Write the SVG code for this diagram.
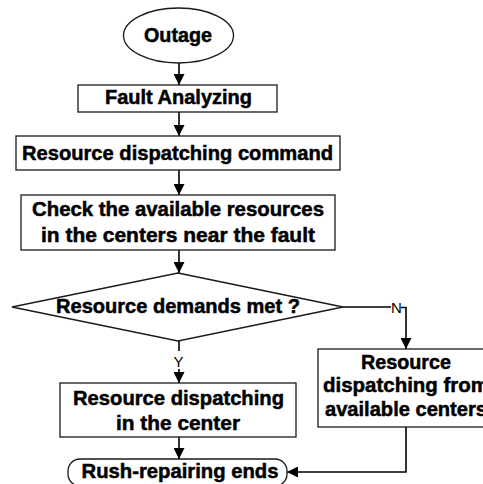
<svg xmlns="http://www.w3.org/2000/svg" width="483" height="484" viewBox="0 0 483 484">
<defs>
<style>
.shape{fill:#fff;stroke:#1a1a1a;stroke-width:1.3}
.t{font-family:"Liberation Sans",Arial,sans-serif;font-weight:bold;font-size:20.5px;fill:#000;stroke:#000;stroke-width:0.5;text-anchor:middle}
.lbl{font-family:"Liberation Sans",Arial,sans-serif;font-size:15px;fill:#000;text-anchor:middle}
.c{fill:none;stroke:#000;stroke-width:1.6}
</style>
<marker id="ah" viewBox="0 0 10 10" refX="10" refY="5" markerWidth="11" markerHeight="11" markerUnits="userSpaceOnUse" orient="auto">
<path d="M0,0 L10,5 L0,10 z" fill="#000"/>
</marker>
</defs>
<rect width="483" height="484" fill="#fff"/>
<g id="connectors">
<line class="c" x1="179" y1="63" x2="179" y2="85" marker-end="url(#ah)"/>
<line class="c" x1="179" y1="112" x2="179" y2="136" marker-end="url(#ah)"/>
<line class="c" x1="179" y1="170" x2="179" y2="195" marker-end="url(#ah)"/>
<line class="c" x1="179" y1="250" x2="179" y2="273" marker-end="url(#ah)"/>
<line class="c" x1="179" y1="341" x2="179" y2="351"/>
<line class="c" x1="179" y1="369" x2="179" y2="383" marker-end="url(#ah)"/>
<text class="lbl" x="178.5" y="367">Y</text>
<polyline class="c" points="343,307 391,307"/>
<polyline class="c" points="401,307.5 406,307.5 406,349" marker-end="url(#ah)"/>
<text class="lbl" x="396.5" y="313">N</text>
<line class="c" x1="179" y1="437" x2="179" y2="459" marker-end="url(#ah)"/>
<polyline class="c" points="406,427 406,472 287,472" marker-end="url(#ah)"/>
</g>
<g id="outage">
<ellipse class="shape" cx="178.5" cy="35.5" rx="55" ry="27.5"/>
<text class="t" x="178" y="42" textLength="68" lengthAdjust="spacingAndGlyphs">Outage</text>
</g>
<g id="fault-analyzing">
<rect class="shape" x="78" y="85" width="199" height="27"/>
<text class="t" x="178.5" y="104" textLength="147" lengthAdjust="spacingAndGlyphs">Fault Analyzing</text>
</g>
<g id="dispatch-command">
<rect class="shape" x="16" y="136" width="324" height="34"/>
<text class="t" x="177.5" y="159.5" textLength="311" lengthAdjust="spacingAndGlyphs">Resource dispatching command</text>
</g>
<g id="check-resources">
<rect class="shape" x="21" y="195" width="314" height="55"/>
<text class="t" x="178" y="216" textLength="292" lengthAdjust="spacingAndGlyphs">Check the available resources</text>
<text class="t" x="178" y="242" textLength="274" lengthAdjust="spacingAndGlyphs">in the centers near the fault</text>
</g>
<g id="demands-met">
<polygon class="shape" points="178,273 343,307 178,341 12,307"/>
<text class="t" x="178" y="313" textLength="244" lengthAdjust="spacingAndGlyphs">Resource demands met ?</text>
</g>
<g id="dispatch-center">
<rect class="shape" x="60" y="383" width="236" height="54"/>
<text class="t" x="178.5" y="405" textLength="211" lengthAdjust="spacingAndGlyphs">Resource dispatching</text>
<text class="t" x="178" y="430" textLength="124" lengthAdjust="spacingAndGlyphs">in the center</text>
</g>
<g id="dispatch-available">
<rect class="shape" x="318" y="349" width="176" height="78"/>
<text class="t" x="406" y="369" textLength="90" lengthAdjust="spacingAndGlyphs">Resource</text>
<text class="t" x="406" y="392" textLength="166" lengthAdjust="spacingAndGlyphs">dispatching from</text>
<text class="t" x="406" y="416" textLength="162" lengthAdjust="spacingAndGlyphs">available centers</text>
</g>
<g id="rush-ends">
<rect class="shape" x="68" y="459" width="219" height="27" rx="12" ry="12"/>
<text class="t" x="180" y="478" textLength="197" lengthAdjust="spacingAndGlyphs">Rush-repairing ends</text>
</g>
</svg>
